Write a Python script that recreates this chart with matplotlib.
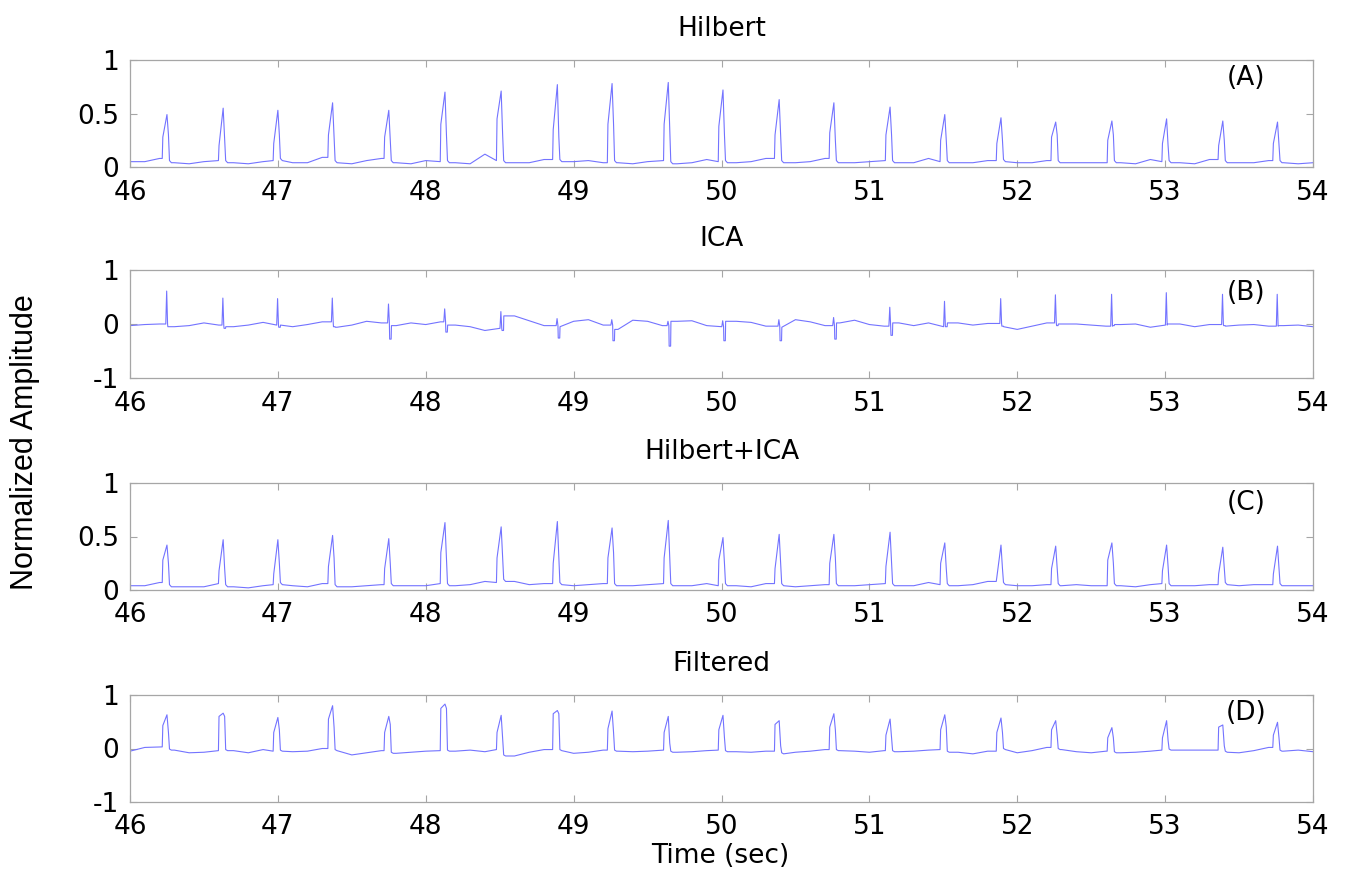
import numpy as np
import matplotlib
matplotlib.use("Agg")
import matplotlib.pyplot as plt

plt.rcParams['axes.unicode_minus'] = False
plt.rcParams['font.family'] = ['DejaVu Sans']

# ---------------- data ----------------
panel_titles = ["Hilbert", "ICA", "Hilbert+ICA", "Filtered"]
panel_tags = ["(A)", "(B)", "(C)", "(D)"]
x_ticks = [46, 47, 48, 49, 50, 51, 52, 53, 54]
y_ticks_pos = [0, 0.5, 1]
y_ticks_sym = [-1, 0, 1]

beat_t = [46.25, 46.63, 47.00, 47.37, 47.75, 48.13, 48.51, 48.89, 49.26, 49.64,
          50.01, 50.39, 50.76, 51.14, 51.51, 51.89, 52.26, 52.64, 53.01, 53.39, 53.76]

grid_t = [round(46.0 + 0.1 * i, 1) for i in range(81)]

# (A) Hilbert
base_A = [0.05, 0.05, 0.08, 0.04, 0.03, 0.05, 0.06, 0.04, 0.03, 0.05,
          0.06, 0.04, 0.04, 0.09, 0.04, 0.03, 0.06, 0.08, 0.04, 0.03,
          0.06, 0.05, 0.04, 0.03, 0.12, 0.06, 0.04, 0.04, 0.07, 0.05,
          0.05, 0.06, 0.04, 0.04, 0.03, 0.05, 0.06, 0.03, 0.04, 0.07,
          0.05, 0.04, 0.05, 0.08, 0.04, 0.04, 0.05, 0.08, 0.04, 0.04,
          0.05, 0.06, 0.04, 0.04, 0.08, 0.05, 0.04, 0.04, 0.06, 0.05,
          0.04, 0.04, 0.06, 0.04, 0.04, 0.04, 0.04, 0.04, 0.03, 0.07,
          0.05, 0.04, 0.03, 0.07, 0.04, 0.04, 0.04, 0.06, 0.04, 0.03, 0.04]
peak_A = [0.49, 0.55, 0.53, 0.60, 0.53, 0.70, 0.71, 0.77, 0.78, 0.79,
          0.72, 0.63, 0.60, 0.56, 0.49, 0.46, 0.42, 0.43, 0.45, 0.43, 0.42]
rise_A = [0.28, 0.20, 0.22, 0.30, 0.28, 0.40, 0.45, 0.35, 0.40, 0.40,
          0.38, 0.30, 0.32, 0.30, 0.25, 0.22, 0.28, 0.25, 0.22, 0.20, 0.22]
fall_A = [0.30, 0.25, 0.30, 0.28, 0.25, 0.30, 0.30, 0.28, 0.40, 0.35,
          0.30, 0.30, 0.25, 0.30, 0.25, 0.25, 0.30, 0.30, 0.20, 0.25, 0.20]

# (B) ICA
base_B = [-0.03, -0.01, 0.00, -0.05, -0.03, 0.02, -0.02, -0.05, -0.02, 0.03,
          -0.02, -0.05, -0.01, 0.04, -0.06, -0.02, 0.05, 0.02, -0.03, 0.02,
          -0.01, 0.04, -0.02, -0.05, -0.12, -0.08, 0.15, 0.06, -0.03, -0.05,
          0.05, 0.08, -0.02, -0.10, 0.07, 0.05, -0.03, 0.05, 0.06, -0.03,
          -0.05, 0.05, 0.03, -0.04, -0.06, 0.08, 0.04, -0.03, 0.02, 0.07,
          -0.01, -0.04, 0.02, -0.03, 0.02, -0.05, 0.02, -0.02, 0.01, -0.05,
          -0.10, -0.04, 0.02, 0.00, 0.00, -0.02, -0.04, -0.01, 0.00, -0.06,
          -0.02, 0.00, -0.05, -0.01, -0.04, -0.02, -0.01, -0.04, -0.03, -0.02, -0.05]
peak_B = [0.61, 0.48, 0.47, 0.48, 0.37, 0.28, 0.23, 0.10, 0.08, 0.05,
          0.06, 0.08, 0.12, 0.31, 0.42, 0.47, 0.54, 0.55, 0.58, 0.55, 0.55]
trough_B = [-0.05, -0.08, -0.06, -0.05, -0.28, -0.15, -0.12, -0.26, -0.31, -0.41,
            -0.31, -0.31, -0.28, -0.21, -0.05, -0.04, -0.03, -0.03, 0.00, -0.03, -0.03]

# (C) Hilbert+ICA
base_C = [0.04, 0.04, 0.07, 0.03, 0.03, 0.03, 0.06, 0.03, 0.02, 0.04,
          0.05, 0.04, 0.03, 0.06, 0.03, 0.03, 0.04, 0.05, 0.04, 0.04,
          0.04, 0.06, 0.04, 0.05, 0.08, 0.07, 0.08, 0.05, 0.06, 0.05,
          0.04, 0.05, 0.06, 0.04, 0.04, 0.05, 0.06, 0.04, 0.04, 0.06,
          0.04, 0.04, 0.03, 0.06, 0.04, 0.03, 0.04, 0.05, 0.04, 0.04,
          0.05, 0.06, 0.04, 0.04, 0.07, 0.05, 0.04, 0.05, 0.08, 0.05,
          0.04, 0.04, 0.05, 0.04, 0.05, 0.04, 0.04, 0.04, 0.03, 0.05,
          0.06, 0.04, 0.04, 0.05, 0.05, 0.04, 0.05, 0.05, 0.04, 0.04, 0.04]
peak_C = [0.42, 0.47, 0.47, 0.51, 0.48, 0.63, 0.59, 0.64, 0.58, 0.65,
          0.49, 0.52, 0.52, 0.54, 0.44, 0.42, 0.41, 0.44, 0.42, 0.40, 0.41]
rise_C = [0.28, 0.18, 0.15, 0.22, 0.20, 0.35, 0.30, 0.25, 0.30, 0.30,
          0.28, 0.20, 0.25, 0.22, 0.25, 0.12, 0.20, 0.28, 0.18, 0.15, 0.15]
fall_C = [0.25, 0.20, 0.25, 0.30, 0.25, 0.30, 0.30, 0.30, 0.35, 0.30,
          0.25, 0.25, 0.30, 0.25, 0.20, 0.20, 0.20, 0.25, 0.22, 0.20, 0.20]

# (D) Filtered
base_D = [-0.05, 0.02, 0.03, -0.03, -0.08, -0.07, -0.04, -0.04, -0.08, -0.02,
          -0.05, -0.06, -0.05, 0.00, -0.04, -0.12, -0.08, -0.04, -0.09, -0.07,
          -0.05, -0.04, -0.05, -0.03, -0.06, -0.02, -0.14, -0.07, -0.02, -0.04,
          -0.09, -0.07, -0.03, -0.05, -0.06, -0.05, -0.03, -0.07, -0.06, -0.04,
          -0.03, -0.06, -0.07, -0.05, -0.10, -0.07, -0.05, -0.02, -0.04, -0.05,
          -0.07, -0.04, -0.06, -0.05, -0.03, -0.02, -0.07, -0.10, -0.05, -0.02,
          -0.08, -0.04, 0.02, -0.02, -0.06, -0.08, -0.05, -0.08, -0.07, -0.05,
          -0.03, -0.03, -0.03, -0.03, -0.07, -0.08, -0.04, 0.02, -0.05, -0.03, -0.06]
peak_D = [0.63, 0.66, 0.58, 0.80, 0.60, 0.83, 0.62, 0.71, 0.70, 0.60,
          0.62, 0.52, 0.65, 0.55, 0.63, 0.57, 0.52, 0.39, 0.52, 0.44, 0.49]
rise_D = [0.43, 0.60, 0.30, 0.55, 0.30, 0.75, 0.30, 0.65, 0.37, 0.30,
          0.35, 0.45, 0.40, 0.25, 0.35, 0.30, 0.35, 0.20, 0.20, 0.40, 0.25]
fall_D = [0.30, 0.60, 0.35, 0.40, 0.45, 0.75, 0.20, 0.65, 0.30, 0.10,
          0.20, 0.05, 0.35, 0.20, 0.40, 0.30, 0.25, 0.20, 0.15, 0.05, 0.20]


# ---------------- assemble traces from the values above ----------------
def nearest_base(base, t):
    i = int(round((t - 46.0) / 0.1))
    return base[max(0, min(len(base) - 1, i))]


def spike_trace(base, peaks, rises, falls):
    pts = [(t, v) for t, v in zip(grid_t, base)
           if min(abs(t - b) for b in beat_t) > 0.035]
    for t, p, r, f in zip(beat_t, peaks, rises, falls):
        b0 = nearest_base(base, t - 0.05)
        b1 = nearest_base(base, t + 0.05)
        pts += [(t - 0.032, b0), (t - 0.028, r), (t, p),
                (t + 0.010, f), (t + 0.017, b1 + 0.02), (t + 0.030, b1)]
    pts.sort()
    return np.array([q[0] for q in pts]), np.array([q[1] for q in pts])


def ica_trace(base, peaks, troughs):
    pts = [(t, v) for t, v in zip(grid_t, base)
           if min(abs(t - b) for b in beat_t) > 0.03]
    for t, p, tr in zip(beat_t, peaks, troughs):
        b0 = nearest_base(base, t - 0.05)
        b1 = nearest_base(base, t + 0.05)
        pts += [(t - 0.008, b0), (t - 0.002, p), (t + 0.004, b0),
                (t + 0.006, tr), (t + 0.016, tr), (t + 0.018, b1)]
    pts.sort()
    return np.array([q[0] for q in pts]), np.array([q[1] for q in pts])


traces = [
    spike_trace(base_A, peak_A, rise_A, fall_A),
    ica_trace(base_B, peak_B, trough_B),
    spike_trace(base_C, peak_C, rise_C, fall_C),
    spike_trace(base_D, peak_D, rise_D, fall_D),
]
ylims = [(0, 1), (-1, 1), (0, 1), (-1, 1)]
yticks = [y_ticks_pos, y_ticks_sym, y_ticks_pos, y_ticks_sym]
tag_y = [0.83, 0.57, 0.81, 0.66]

# ---------------- figure ----------------
W, H = 1353, 884
fig = plt.figure(figsize=(W / 100, H / 100), dpi=100)
boxes = [(60, 167), (270, 378), (483, 590), (695, 802)]
left_px, right_px = 130, 1313
line_color = (0.45, 0.45, 1.0)
spine_color = '#a6a6a6'

for k in range(4):
    top, bot = boxes[k]
    ax = fig.add_axes([left_px / W, 1 - bot / H, (right_px - left_px) / W, (bot - top) / H])
    x, y = traces[k]
    ax.plot(x, y, color=line_color, lw=0.8)
    ax.set_xlim(46, 54)
    ax.set_ylim(*ylims[k])
    ax.set_xticks(x_ticks)
    ax.set_xticklabels([str(v) for v in x_ticks])
    ax.set_yticks(yticks[k])
    ax.set_yticklabels([('%g' % v) for v in yticks[k]])
    for s in ax.spines.values():
        s.set_color(spine_color)
        s.set_linewidth(0.9)
    ax.tick_params(direction='in', top=True, right=True, length=5, width=0.8,
                   color=spine_color, labelsize=19, labelcolor='black')
    ax.tick_params(axis='x', pad=9)
    ax.tick_params(axis='y', pad=8)
    ax.set_title(panel_titles[k], fontsize=19, pad=17)
    ax.text(53.55, tag_y[k], panel_tags[k], fontsize=19, ha='center', va='center')

fig.text(25 / W, 0.5, "Normalized Amplitude", rotation=90, ha='center', va='center',
         fontsize=22, family=['Liberation Sans', 'DejaVu Sans'])
fig.text(720 / W, 1 - 856 / H, "Time (sec)", ha='center', va='center', fontsize=19)

fig.savefig("out.png", dpi=100)
